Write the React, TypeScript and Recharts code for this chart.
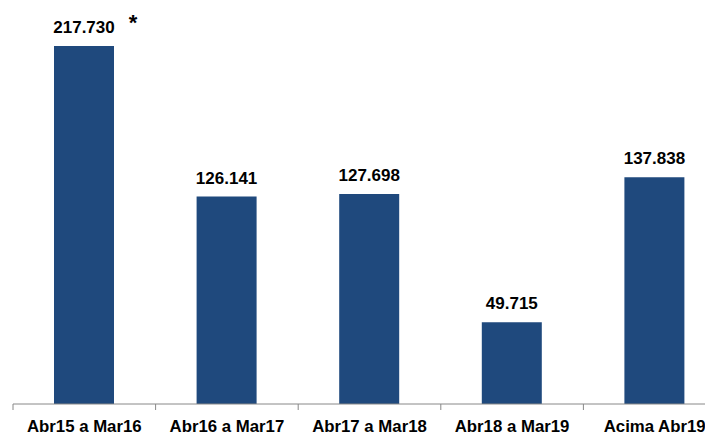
import { Bar, BarChart, LabelList, XAxis, YAxis } from "recharts";

const categories = [
  "Abr15 a Mar16",
  "Abr16 a Mar17",
  "Abr17 a Mar18",
  "Abr18 a Mar19",
  "Acima Abr19",
];
const values = [217.73, 126.141, 127.698, 49.715, 137.838];
const notes = ["*", "", "", "", ""];

const data = categories.map((name, i) => ({ name, value: values[i], note: notes[i] }));

const CHART_W = 718;
const CHART_H = 429;
const MARGIN = { top: 38, right: 0, bottom: 0, left: 5 };
const HALF_BAND = (CHART_W - MARGIN.left - MARGIN.right) / categories.length / 2;

const fmt = (v: number) => v.toFixed(3);

const CategoryTick = (props: any) => {
  const { x, y, payload, index } = props;
  const last = index === categories.length - 1;
  return (
    <g>
      <line x1={x - HALF_BAND} x2={x - HALF_BAND} y1={y} y2={y + 6} stroke="#888" />
      {last && <line x1={x + HALF_BAND} x2={x + HALF_BAND} y1={y} y2={y + 6} stroke="#888" />}
      <text
        x={x}
        y={y + 28}
        textAnchor="middle"
        fontFamily="Liberation Sans, Arial, sans-serif"
        fontWeight="bold"
        fontSize={16.8}
        fill="#000"
      >
        {payload.value}
      </text>
    </g>
  );
};

const ValueLabel = (props: any) => {
  const { x, y, width, value, index } = props;
  const note = notes[index];
  const cx = x + width / 2;
  return (
    <g>
      <text
        x={cx}
        y={y - 13}
        textAnchor="middle"
        fontFamily="Liberation Sans, Arial, sans-serif"
        fontWeight="bold"
        fontSize={17}
        fill="#000"
      >
        {fmt(value)}
      </text>
      {note && (
        <text
          x={cx + 49}
          y={y - 16}
          textAnchor="middle"
          fontFamily="Liberation Sans, Arial, sans-serif"
          fontWeight="bold"
          fontSize={22}
          fill="#000"
        >
          {note}
        </text>
      )}
    </g>
  );
};

export default function App() {
  return (
    <div style={{ width: 705, height: CHART_H, overflow: "hidden" }}>
      <BarChart width={CHART_W} height={CHART_H} data={data} margin={MARGIN}>
        <XAxis
          dataKey="name"
          height={33}
          axisLine={{ stroke: "#888" }}
          tickLine={false}
          tickSize={0}
          tickMargin={0}
          interval={0}
          tick={<CategoryTick />}
        />
        <YAxis hide domain={[0, "dataMax"]} />
        <Bar dataKey="value" fill="#1f497d" barSize={60} isAnimationActive={false}>
          <LabelList dataKey="value" content={<ValueLabel />} />
        </Bar>
      </BarChart>
    </div>
  );
}
